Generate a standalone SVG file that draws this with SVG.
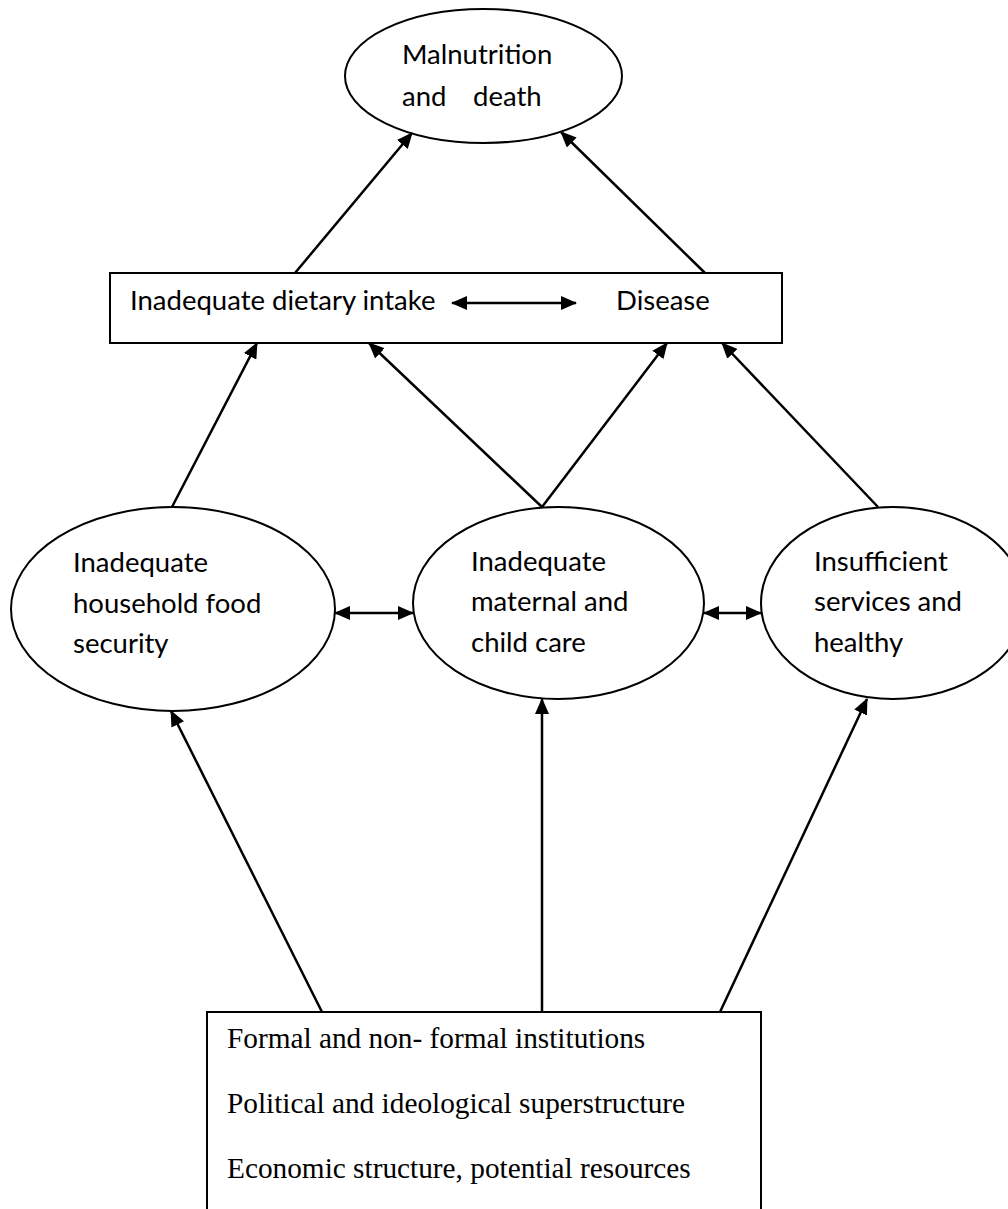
<svg xmlns="http://www.w3.org/2000/svg" width="1008" height="1209" viewBox="0 0 1008 1209">
<style>
.shape{fill:#fff;stroke:#000;stroke-width:2}
.cal{font-family:Lato,"Liberation Sans",sans-serif;font-size:27.5px;fill:#000}
.tms{font-family:"Liberation Serif","Times New Roman",serif;font-size:29.3px;fill:#000}
.conn{stroke:#000;stroke-width:2.5;fill:none}
</style>
<defs>
<marker id="ah" markerUnits="userSpaceOnUse" markerWidth="16" markerHeight="14" refX="15" refY="7" orient="auto-start-reverse">
<path d="M0,0 L16,7 L0,14 z" fill="#000"/>
</marker>
</defs>
<rect width="1008" height="1209" fill="#fff"/>
<g id="malnutrition">
<ellipse class="shape" cx="483.5" cy="76" rx="138.5" ry="67"/>
<text class="cal" x="402" y="64">Malnutrition</text>
<text class="cal" y="106"><tspan x="402">and</tspan><tspan x="473">death</tspan></text>
</g>
<g id="immediate">
<rect class="shape" x="110" y="273" width="672" height="70"/>
<text class="cal" x="130" y="310">Inadequate dietary intake</text>
<text class="cal" x="616" y="310">Disease</text>
</g>
<g id="food">
<ellipse class="shape" cx="173" cy="609" rx="162" ry="102"/>
<text class="cal" x="73" y="572">Inadequate</text>
<text class="cal" x="73" y="613">household food</text>
<text class="cal" x="73" y="653">security</text>
</g>
<g id="care">
<ellipse class="shape" cx="558.5" cy="603" rx="145.5" ry="96"/>
<text class="cal" x="471" y="571">Inadequate</text>
<text class="cal" x="471" y="611">maternal and</text>
<text class="cal" x="471" y="652">child care</text>
</g>
<g id="services">
<ellipse class="shape" cx="893" cy="603" rx="132" ry="96"/>
<text class="cal" x="814" y="571">Insufficient</text>
<text class="cal" x="814" y="611">services and</text>
<text class="cal" x="814" y="652">healthy</text>
</g>
<g id="basic">
<rect class="shape" x="207" y="1012" width="554" height="220"/>
<text class="tms" x="227" y="1048">Formal and non- formal institutions</text>
<text class="tms" x="227" y="1113">Political and ideological superstructure</text>
<text class="tms" x="227" y="1178">Economic structure, potential resources</text>
</g>
<g id="connectors">
<line class="conn" x1="295" y1="273" x2="412" y2="133" marker-end="url(#ah)"/>
<line class="conn" x1="705" y1="273" x2="561" y2="132" marker-end="url(#ah)"/>
<line class="conn" x1="452" y1="303" x2="576" y2="303" marker-start="url(#ah)" marker-end="url(#ah)"/>
<line class="conn" x1="172" y1="507" x2="257" y2="343" marker-end="url(#ah)"/>
<line class="conn" x1="542" y1="507" x2="369" y2="343" marker-end="url(#ah)"/>
<line class="conn" x1="542" y1="507" x2="667" y2="343" marker-end="url(#ah)"/>
<line class="conn" x1="878" y1="507" x2="722" y2="343" marker-end="url(#ah)"/>
<line class="conn" x1="335" y1="613" x2="413" y2="613" marker-start="url(#ah)" marker-end="url(#ah)"/>
<line class="conn" x1="704" y1="613" x2="761" y2="613" marker-start="url(#ah)" marker-end="url(#ah)"/>
<line class="conn" x1="322" y1="1012" x2="171" y2="711" marker-end="url(#ah)"/>
<line class="conn" x1="542" y1="1012" x2="542" y2="699" marker-end="url(#ah)"/>
<line class="conn" x1="720" y1="1012" x2="867" y2="699" marker-end="url(#ah)"/>
</g>
</svg>
